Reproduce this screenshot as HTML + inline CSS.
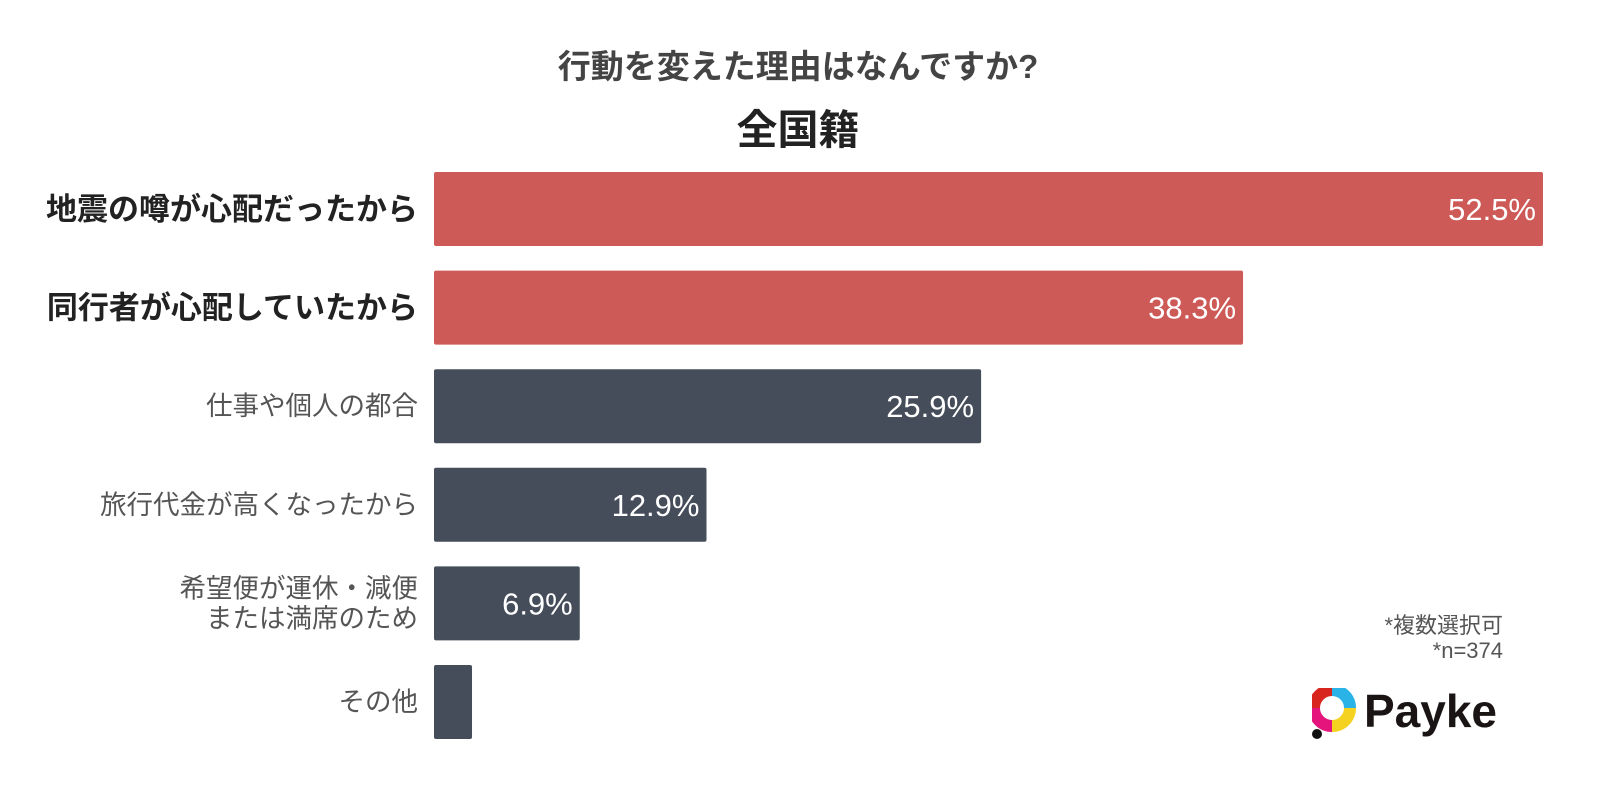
<!DOCTYPE html>
<html><head><meta charset="utf-8"><style>
body{margin:0;width:1600px;height:800px;background:#fff;overflow:hidden;font-family:"Liberation Sans","Noto Sans CJK JP",sans-serif;position:relative}
.t{position:absolute;white-space:nowrap}
</style></head><body>
<div class="t" style="left:0;width:1596px;text-align:center;top:40px;font-size:33px;font-weight:bold;color:#444">行動を変えた理由はなんですか?</div>
<div class="t" style="left:0;width:1596px;text-align:center;top:96px;font-size:41px;font-weight:bold;color:#222">全国籍</div>
<svg id="chart" width="1600" height="800" style="position:absolute;left:0;top:0"></svg>
<div class="t" style="right:97px;top:608px;font-size:22px;color:#555;text-align:right">*複数選択可</div>
<div class="t" style="right:97px;top:638px;font-size:22px;color:#555;text-align:right">*n=374</div>
<div style="position:absolute;left:1312px;top:688px;width:200px;height:52px">
<svg width="44" height="52" style="position:absolute;left:0;top:0">
<path d="M20 2 A18 18 0 0 1 38 20" stroke="#2ab3e6" stroke-width="12" fill="none"/>
<path d="M38 20 A18 18 0 0 1 20 38" stroke="#f4d21f" stroke-width="12" fill="none"/>
<path d="M20 38 A18 18 0 0 1 2 20" stroke="#e4147c" stroke-width="12" fill="none"/>
<path d="M2 20 A18 18 0 0 1 20 2" stroke="#d8261e" stroke-width="12" fill="none"/>
<circle cx="20" cy="20" r="9" fill="#fff"/>
<circle cx="5" cy="46" r="5" fill="#111"/>
</svg>
<div class="t" style="left:52px;top:-4px;font-size:46px;font-weight:bold;color:#1a1414">Payke</div>
</div>
<script>
const categories=["地震の噂が心配だったから","同行者が心配していたから","仕事や個人の都合","旅行代金が高くなったから","希望便が運休・減便\nまたは満席のため","その他"];
const values=[52.5,38.3,25.9,12.9,6.9,1.8];
const valueLabels=["52.5%","38.3%","25.9%","12.9%","6.9%",""];
const highlight=[true,true,false,false,false,false];
const svg=document.getElementById('chart');
const NS='http://www.w3.org/2000/svg';
const x0=434,pxPer=1109/52.5,y0=172,pitch=98.6,bh=74;
function xs(v){return v*pxPer;}
function yb(i){return y0+i*pitch;}
categories.forEach((c,i)=>{
 const r=document.createElementNS(NS,'rect');
 r.setAttribute('x',x0);r.setAttribute('y',yb(i));r.setAttribute('width',xs(values[i]));r.setAttribute('height',bh);r.setAttribute('rx',2);
 r.setAttribute('fill',highlight[i]?'#cd5a57':'#454c5a');
 
 
 svg.appendChild(r);
 if(valueLabels[i]){
  const t=document.createElementNS(NS,'text');
  t.setAttribute('x',x0+xs(values[i])-7);t.setAttribute('y',yb(i)+bh/2+11);t.setAttribute('text-anchor','end');
  t.setAttribute('fill','#fff');t.setAttribute('font-size','31');t.textContent=valueLabels[i];
  
  
  svg.appendChild(t);
 }
 const lines=c.split('\n');
 const lab=document.createElementNS(NS,'text');
 lab.setAttribute('text-anchor','end');
 lab.setAttribute('font-size',highlight[i]?'31':'26.5');
 lab.setAttribute('font-weight',highlight[i]?'bold':'normal');
 lab.setAttribute('fill',highlight[i]?'#222':'#555');
 
 
 lines.forEach((l,k)=>{
  const ts=document.createElementNS(NS,'tspan');
  ts.setAttribute('x',418);
  ts.setAttribute('y',yb(i)+bh/2+(highlight[i]?11:9)+(k-(lines.length-1)/2)*30);
  ts.textContent=l;lab.appendChild(ts);
 });
 svg.appendChild(lab);
});
</script>
</body></html>
